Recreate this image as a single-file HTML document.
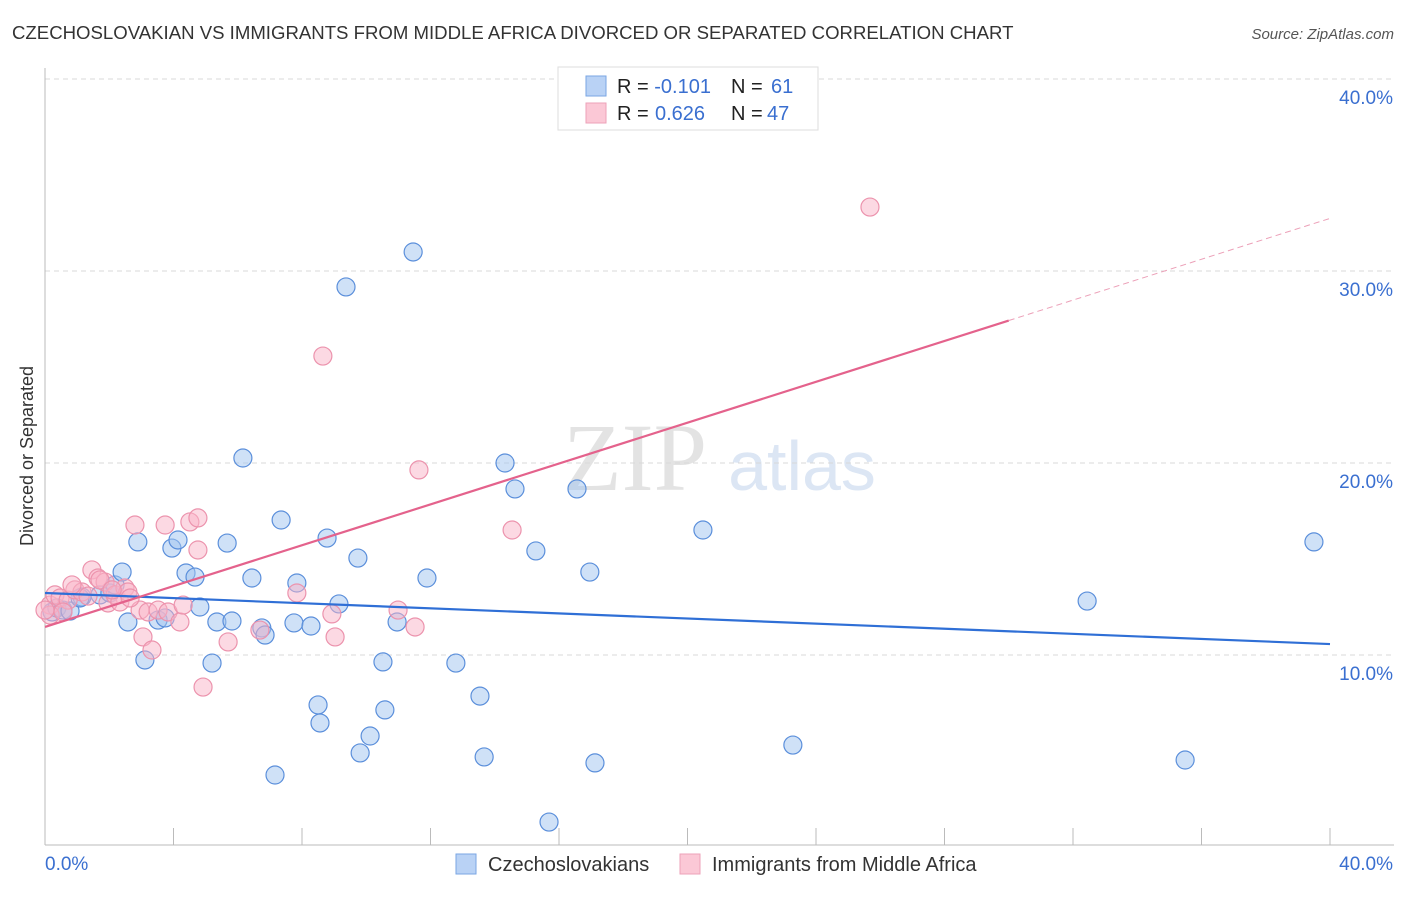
<!DOCTYPE html>
<html><head><meta charset="utf-8"><style>
body{margin:0;background:#fff;width:1406px;height:892px;overflow:hidden;font-family:"Liberation Sans",sans-serif}
</style></head><body>
<svg id="chart" width="1406" height="892" xmlns="http://www.w3.org/2000/svg" font-family="Liberation Sans, sans-serif">
<text x="12" y="39" font-size="18.6" fill="#333">CZECHOSLOVAKIAN VS IMMIGRANTS FROM MIDDLE AFRICA DIVORCED OR SEPARATED CORRELATION CHART</text>
<text x="1394" y="39" font-size="15" fill="#555" text-anchor="end" font-style="italic">Source: ZipAtlas.com</text>
<text transform="translate(33,456) rotate(-90)" font-size="18" fill="#333" text-anchor="middle">Divorced or Separated</text>
<g>
<text x="635" y="490" font-size="96" fill="#e3e3e3" font-family="Liberation Serif, serif" text-anchor="middle">ZIP</text>
<text x="802" y="490" font-size="70" fill="#dce6f4" text-anchor="middle">atlas</text>
</g>
<g id="grid"></g>
<g id="axes"></g>
<g id="pts"></g>
<g id="trend"></g>
<g>
<rect x="558" y="67" width="260" height="63" fill="#fff" stroke="#ddd"/>
<rect x="586" y="76" width="20" height="20" fill="#b9d2f5" stroke="#7aa6e3"/>
<rect x="586" y="103" width="20" height="20" fill="#fbc8d6" stroke="#eda2b8"/>
<text x="617" y="93" font-size="20" fill="#222">R = <tspan fill="#3a6fd0">-0.101</tspan><tspan x="731">N = </tspan><tspan x="771" fill="#3a6fd0">61</tspan></text>
<text x="617" y="120" font-size="20" fill="#222">R = <tspan x="655" fill="#3a6fd0">0.626</tspan><tspan x="731">N = </tspan><tspan x="767" fill="#3a6fd0">47</tspan></text>
</g>
<g>
<rect x="456" y="854" width="20" height="20" fill="#b9d2f5" stroke="#7aa6e3"/>
<text x="488" y="871" font-size="20" fill="#333">Czechoslovakians</text>
<rect x="680" y="854" width="20" height="20" fill="#fbc8d6" stroke="#eda2b8"/>
<text x="712" y="871" font-size="20" fill="#333">Immigrants from Middle Africa</text>
</g>
</svg>
<script>
const yTicks=[10,20,30,40];
const yTickLabels=["10.0%","20.0%","30.0%","40.0%"];
const xTickLabels=["0.0%","40.0%"];
const blueX=[0.22,0.37,0.56,0.78,1.15,1.71,2.02,2.18,2.40,2.58,2.89,3.11,3.52,3.74,3.95,4.14,4.39,4.67,4.82,5.20,5.35,5.67,5.82,6.16,6.44,6.75,6.85,7.16,7.35,7.75,7.84,8.28,8.50,8.56,8.78,9.15,9.37,9.74,9.81,10.12,10.52,10.58,10.96,11.46,11.89,12.79,13.54,13.67,14.32,14.63,15.28,15.69,16.56,16.96,17.12,20.48,23.28,32.44,35.49,39.50,1.09];
const blueY=[12.24,12.45,12.34,12.29,13.02,13.13,13.23,13.65,14.32,11.72,15.89,9.74,11.82,11.93,15.57,15.99,14.27,14.06,12.50,9.58,11.72,15.83,11.77,20.26,14.01,11.41,11.04,3.75,17.03,11.67,13.75,11.51,7.40,6.46,16.09,12.66,29.17,15.05,4.90,5.78,9.64,7.14,11.72,30.99,14.01,9.58,7.86,4.69,20.00,18.65,15.42,1.30,18.65,14.32,4.38,16.51,5.31,12.81,4.53,15.89,12.97];
const pinkX=[0.16,0.31,0.47,0.72,0.93,1.15,1.34,1.46,1.65,1.87,1.96,2.18,2.33,2.49,2.58,2.80,2.96,3.05,3.21,3.33,3.52,3.74,3.83,4.20,4.30,4.51,4.76,4.76,4.92,5.70,6.69,7.84,8.65,8.93,9.03,10.99,11.52,11.64,14.54,25.68,0.16,0.56,1.71,2.65,2.09,0.84,0.00];
const pinkY=[12.60,13.13,12.97,12.86,13.39,13.28,13.07,14.43,14.01,13.80,12.71,13.13,12.76,13.49,13.28,16.77,12.34,10.94,12.24,10.26,12.34,16.77,12.24,11.72,12.60,16.93,17.14,15.47,8.33,10.68,11.30,13.23,25.57,12.14,10.94,12.34,11.46,19.64,16.51,33.33,12.08,12.24,13.91,12.97,13.39,13.65,12.34];
const blueTrend=[13.23,10.57];
const pinkTrend=[11.46,0.532];
const NS="http://www.w3.org/2000/svg";
const X0=45,X1=1330,Y0=847;
const sx=v=>X0+(v/40)*(X1-X0);
const sy=v=>Y0-v*19.2;
function mk(tag,attrs,parent){const e=document.createElementNS(NS,tag);for(const k in attrs)e.setAttribute(k,attrs[k]);parent.appendChild(e);return e;}
const grid=document.getElementById('grid'),axes=document.getElementById('axes'),pts=document.getElementById('pts'),trend=document.getElementById('trend');
yTicks.forEach((t,i)=>{
 const l=mk('line',{x1:X0,x2:1394,y1:sy(t),y2:sy(t),stroke:'#d8d8d8','stroke-dasharray':'5,4'},grid);
 
 
 const tx=mk('text',{x:1393,y:sy(t)+25,'font-size':19,fill:'#3a6fd0','text-anchor':'end'},grid);
 tx.textContent=yTickLabels[i];
 
 
});
let a=mk('line',{x1:X0,x2:X0,y1:68,y2:845,stroke:'#bbb'},axes);


a=mk('line',{x1:X0,x2:1394,y1:845,y2:845,stroke:'#bbb'},axes);


for(let v=0;v<=40;v+=4){
 const t=mk('line',{x1:sx(v),x2:sx(v),y1:828,y2:845,stroke:'#bbb'},axes);
 
 
}
[[0,'start'],[40,'end']].forEach((p,i)=>{
 const t=mk('text',{x:i?1393:45,y:870,'font-size':19,fill:'#3a6fd0','text-anchor':p[1]},axes);
 t.textContent=xTickLabels[i];
 
 
});
blueX.forEach((x,i)=>{
 const c=mk('circle',{cx:sx(x),cy:sy(blueY[i]),r:9,fill:'rgba(160,195,240,0.5)',stroke:'#5b8fdb','stroke-width':1.2},pts);
 
 
});
pinkX.forEach((x,i)=>{
 const c=mk('circle',{cx:sx(x),cy:sy(pinkY[i]),r:9,fill:'rgba(250,180,200,0.5)',stroke:'#ec93ad','stroke-width':1.2},pts);
 
 
});
let L=mk('line',{x1:sx(0),y1:sy(blueTrend[0]),x2:sx(40),y2:sy(blueTrend[1]),stroke:'#2f6fd6','stroke-width':2.2},trend);


L=mk('line',{x1:sx(0),y1:sy(pinkTrend[0]),x2:sx(30),y2:sy(pinkTrend[0]+pinkTrend[1]*30),stroke:'#e4628c','stroke-width':2.2},trend);


L=mk('line',{x1:sx(30),y1:sy(pinkTrend[0]+pinkTrend[1]*30),x2:sx(40),y2:sy(pinkTrend[0]+pinkTrend[1]*40),stroke:'#eca0b8','stroke-width':1,'stroke-dasharray':'6,4'},trend);


</script>
</body></html>
